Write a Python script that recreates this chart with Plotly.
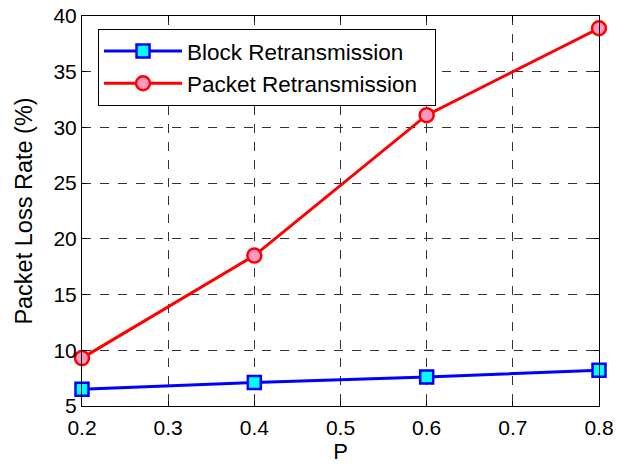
import plotly.graph_objects as go

p_values = [0.2, 0.4, 0.6, 0.8]
block_retx = [6.5, 7.1, 7.6, 8.2]
packet_retx = [9.3, 18.5, 31.1, 38.9]
x_ticks = [0.2, 0.3, 0.4, 0.5, 0.6, 0.7, 0.8]
y_ticks = [5, 10, 15, 20, 25, 30, 35, 40]

font_family = "Liberation Sans, Arial, sans-serif"

fig = go.Figure()
fig.add_trace(go.Scatter(
    x=p_values, y=block_retx, mode="lines+markers", name="Block Retransmission\u00a0\u00a0",
    line=dict(color="#0000ff", width=3),
    marker=dict(symbol="square", size=13, color="#00ffff", line=dict(color="#0000ff", width=2.5)),
    cliponaxis=False,
))
fig.add_trace(go.Scatter(
    x=p_values, y=packet_retx, mode="lines+markers", name="Packet Retransmission\u00a0\u00a0",
    line=dict(color="#ff0000", width=3),
    marker=dict(symbol="circle", size=14, color="#ff99c2", line=dict(color="#ff0000", width=2.5)),
    cliponaxis=False,
))

axis_common = dict(
    showline=True, linecolor="black", linewidth=1, mirror="ticks",
    ticks="inside", ticklen=5, tickcolor="black",
    showgrid=True, gridcolor="#333333", gridwidth=1, griddash="dash",
    zeroline=False, automargin=False,
    tickfont=dict(family=font_family, size=21, color="black"),
)

fig.update_xaxes(range=[0.2, 0.8], tickvals=x_ticks, ticktext=[f"{v:.1f}" for v in x_ticks],
                 ticklabelstandoff=3,
                 title=dict(text="P", font=dict(family=font_family, size=22, color="black"), standoff=4),
                 **axis_common)
fig.update_yaxes(range=[5, 40], tickvals=y_ticks,
                 title=dict(text="Packet Loss Rate (%)", font=dict(family=font_family, size=23.5, color="black"), standoff=14),
                 **axis_common)

fig.update_layout(
    width=632, height=464,
    margin=dict(l=82, r=33, t=16, b=58),
    paper_bgcolor="white", plot_bgcolor="white",
    font=dict(family=font_family, color="black"),
    legend=dict(
        x=0.031, y=0.967, xanchor="left", yanchor="top",
        bgcolor="white", bordercolor="black", borderwidth=1,
        font=dict(family=font_family, size=22.5, color="black"),
        itemwidth=78,
    ),
    showlegend=True,
)

fig.write_html("out.html")
